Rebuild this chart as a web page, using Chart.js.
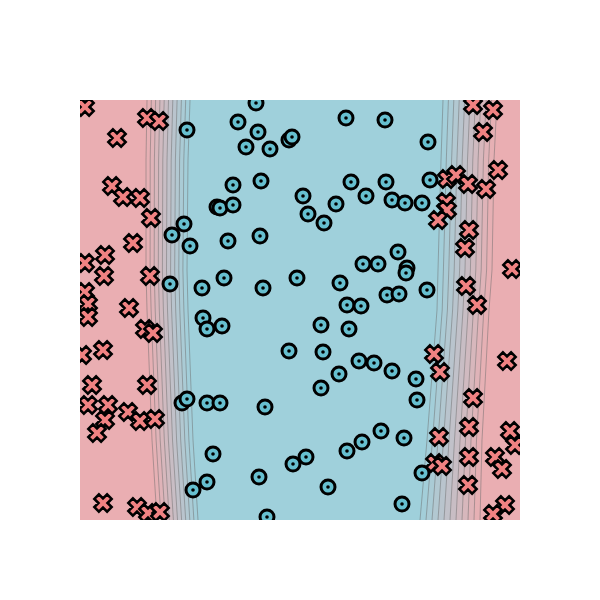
<!DOCTYPE html>
<html><head><meta charset="utf-8">
<script src="https://cdn.jsdelivr.net/npm/chart.js@4"></script>
<style>html,body{margin:0;padding:0;background:#fff}</style></head>
<body><canvas id="c" width="600" height="600"></canvas>
<script>
// class "circle" samples
const circleX = [-0.44,-1.13,-0.62,-0.42,-0.54,-0.30,-0.11,-0.08,0.46,0.85,1.28,
  -0.67,-0.39,-0.83,-0.80,-0.67,0.03,-1.16,-1.28,-1.10,-0.72,-0.40,
  0.36,0.08,0.24,0.51,0.86,1.30,0.66,0.92,1.05,1.22,
  0.98,0.63,0.78,1.07,1.06,0.40,0.87,0.99,1.27,0.47,0.61,
  -1.30,-0.98,-0.76,-0.37,-0.03,
  -0.97,-0.93,-0.78,-0.11,-1.18,-1.13,-0.93,-0.80,-0.35,-0.87,-0.07,-0.93,-1.07,-0.41,-0.33,
  0.21,0.49,0.23,0.59,0.74,0.92,1.16,0.39,0.21,1.17,0.06,0.47,0.62,0.81,1.04,1.22,0.28,1.02];
const circleY = [2.07,1.80,1.88,1.78,1.63,1.61,1.70,1.73,1.92,1.90,1.68,
  1.25,1.29,1.03,1.02,1.05,1.14,0.86,0.75,0.64,0.69,0.74,
  1.06,0.96,0.87,1.28,1.28,1.30,1.14,1.10,1.07,1.07,
  0.58,0.46,0.46,0.42,0.37,0.27,0.15,0.16,0.20,0.05,0.04,
  0.26,0.22,0.32,0.22,0.32,
  -0.08,-0.19,-0.16,-0.41,-0.93,-0.89,-0.93,-0.93,-0.97,-1.44,-1.54,-1.72,-1.80,-1.67,-2.07,
  -0.15,-0.19,-0.42,-0.51,-0.53,-0.61,-0.69,-0.64,-0.78,-0.90,-1.47,-1.41,-1.32,-1.21,-1.28,-1.63,-1.77,-1.94];
// class "cross" samples
const crossX = [-2.15,-1.53,-1.41,-1.83,-1.88,-1.77,-1.60,-1.49,-1.67,-1.95,-2.15,-1.96,-1.50,-2.15,-2.12,-2.12,-1.71,-1.55,-1.47,-1.97,-2.18,-2.08,-1.53,-2.12,-1.92,-1.95,-2.03,-1.72,-1.60,-1.45,-1.97,-1.63,-1.52,-1.40,
  1.73,1.93,1.83,1.98,1.47,1.56,1.68,1.86,1.46,1.47,1.38,1.69,1.65,2.12,1.66,1.77,1.34,1.40,2.07,1.73,1.69,1.39,1.35,1.42,1.69,2.10,2.15,1.95,2.02,1.68,2.05,1.93];
const crossY = [2.03,1.92,1.89,1.72,1.24,1.13,1.12,0.92,0.67,0.55,0.47,0.34,0.34,0.18,0.06,-0.07,0.02,-0.19,-0.23,-0.40,-0.45,-0.75,-0.75,-0.95,-0.95,-1.10,-1.23,-1.02,-1.11,-1.09,-1.93,-1.97,-2.03,-2.02,
  2.05,2.00,1.78,1.40,1.31,1.35,1.26,1.21,1.08,1.00,0.90,0.80,0.62,0.41,0.24,0.05,-0.44,-0.62,-0.51,-0.88,-1.17,-1.27,-1.53,-1.56,-1.47,-1.21,-1.35,-1.47,-1.59,-1.75,-1.95,-2.04];
// decision-boundary band edges (data units) at sample heights
const boundY     = [2.1, 1.5, 0.4, 0.0, -1.3, -2.1];
const leftOuter  = [-1.53,-1.54,-1.54,-1.53,-1.48,-1.43];
const leftInner  = [-1.10,-1.12,-1.13,-1.12,-1.07,-1.02];
const rightInner = [1.43,1.41,1.38,1.37,1.27,1.20];
const rightOuter = [1.97,1.94,1.92,1.89,1.82,1.80];
const nLevels = 10;

const PINK = [234,174,178], BLUE = [159,208,219];
function mix(t){const c=PINK.map((p,i)=>Math.round(p+(BLUE[i]-p)*t));return `rgb(${c[0]},${c[1]},${c[2]})`;}

function makeCircle(){
  const c=document.createElement('canvas');c.width=c.height=22;const g=c.getContext('2d');
  g.beginPath();g.arc(11,11,7,0,Math.PI*2);g.fillStyle='#66bfcf';g.fill();g.lineWidth=3;g.strokeStyle='#000';g.stroke();
  g.beginPath();g.arc(11,11,1.8,0,Math.PI*2);g.fillStyle='#000';g.fill();
  return c;
}
function makeCross(){
  const s=26,c=document.createElement('canvas');c.width=c.height=s;const g=c.getContext('2d');
  const L=9,a=3.2,h=s/2,r=Math.SQRT1_2;
  const uv=[[a,L],[a,a],[L,a],[L,-a],[a,-a],[a,-L],[-a,-L],[-a,-a],[-L,-a],[-L,a],[-a,a],[-a,L]];
  g.beginPath();
  uv.forEach(([u,v],i)=>{const x=h+(u-v)*r,y=h+(u+v)*r;i?g.lineTo(x,y):g.moveTo(x,y);});
  g.closePath();g.fillStyle='#f08282';g.fill();g.lineWidth=2.6;g.lineJoin='miter';g.strokeStyle='#000';g.stroke();
  return c;
}

const bgPlugin={id:'bg',beforeDatasetsDraw(chart){
  const ctx=chart.ctx,ca=chart.chartArea,xs=chart.scales.x,ys=chart.scales.y;
  ctx.save();ctx.beginPath();ctx.rect(ca.left,ca.top,ca.right-ca.left,ca.bottom-ca.top);ctx.clip();
  ctx.fillStyle=mix(0);ctx.fillRect(ca.left,ca.top,ca.right-ca.left,ca.bottom-ca.top);
  const line=(o,n,k)=>boundY.map((y,i)=>[xs.getPixelForValue(o[i]+(n[i]-o[i])*k/nLevels),ys.getPixelForValue(y)]);
  for(let k=0;k<=nLevels;k++){
    const Lp=line(leftOuter,leftInner,k),Rp=line(rightOuter,rightInner,k).reverse();
    ctx.beginPath();Lp.concat(Rp).forEach(([x,y],i)=>i?ctx.lineTo(x,y):ctx.moveTo(x,y));ctx.closePath();
    ctx.fillStyle=k<nLevels?mix((k+0.5)/nLevels):mix(1);ctx.fill();
  }
  ctx.lineWidth=0.8;ctx.strokeStyle='rgba(105,105,105,0.6)';
  for(let k=0;k<=nLevels;k++){
    [line(leftOuter,leftInner,k),line(rightOuter,rightInner,k)].forEach(P=>{
      ctx.beginPath();P.forEach(([x,y],i)=>i?ctx.lineTo(x,y):ctx.moveTo(x,y));ctx.stroke();});
  }
  ctx.restore();
}};

const toPts=(X,Y)=>X.map((x,i)=>({x,y:Y[i]}));
new Chart(document.getElementById('c'),{
  type:'scatter',
  data:{datasets:[
    {label:'cross',data:toPts(crossX,crossY),pointStyle:makeCross(),pointRadius:10,clip:0},
    {label:'circle',data:toPts(circleX,circleY),pointStyle:makeCircle(),pointRadius:9,clip:0}
  ]},
  options:{responsive:false,animation:false,events:[],
    layout:{padding:{left:80,right:80,top:100,bottom:80}},
    plugins:{legend:{display:false},tooltip:{enabled:false}},
    scales:{x:{type:'linear',min:-2.2,max:2.2,display:false},y:{type:'linear',min:-2.1,max:2.1,display:false}}
  },
  plugins:[bgPlugin]
});
</script></body></html>
